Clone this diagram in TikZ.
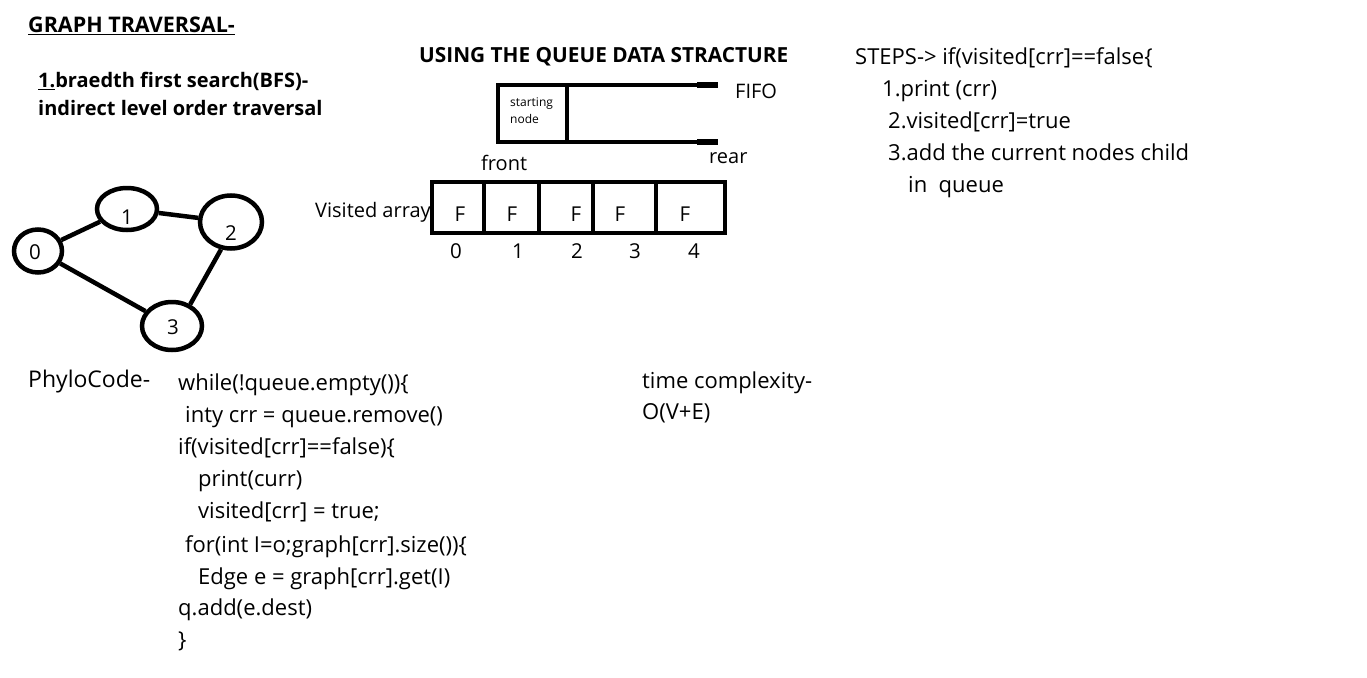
\documentclass[tikz,border=0pt]{standalone}
\usepackage{fontspec}
\setmainfont{Open Sans}
\usetikzlibrary{shapes.geometric}
\tikzset{
  txt/.style={anchor=base west, inner sep=0pt, font=\fontsize{22}{26}\selectfont},
  mid/.style={anchor=base west, inner sep=0pt, font=\fontsize{20}{24}\selectfont},
  num/.style={anchor=base, inner sep=0pt, font=\fontsize{20.5}{24}\selectfont},
  head/.style={anchor=base west, inner sep=0pt, font=\bfseries\fontsize{20}{24}\selectfont},
  vert/.style={ellipse, draw=black, line width=4.5pt, inner sep=0pt},
  edge/.style={draw=black, line width=4.5pt},
  cell/.style={draw=black, line width=4.5pt, minimum height=51pt, inner sep=0pt},
}
\begin{document}
\begin{tikzpicture}[x=1pt,y=-1pt]
\useasboundingbox[fill=white] (0,0) rectangle (1367,677);

% headings
\node[head, font=\bfseries\fontsize{21.5}{24}\selectfont] (title) at (28,33) {\underline{GRAPH TRAVERSAL-}};
\node[head] (bfs1) at (38,88) {\underline{1.}braedth first search(BFS)-};
\node[head] (bfs2) at (38,115) {indirect level order traversal};
\node[head, font=\bfseries\fontsize{20.8}{22}\selectfont] (qhead) at (419,63) {USING THE QUEUE DATA STRACTURE};

% graph
\node[vert, minimum width=48pt, minimum height=43pt] (n0) at (38,251) {};
\node[vert, minimum width=60pt, minimum height=42pt] (n1) at (127,209) {};
\node[vert, minimum width=62pt, minimum height=53pt] (n2) at (231,222) {};
\node[vert, minimum width=60pt, minimum height=48pt] (n3) at (172,326) {};
\node[num] (l0) at (35,259) {0};
\node[num] (l1) at (127,224) {1};
\node[num] (l2) at (231,240) {2};
\node[num] (l3) at (173,334) {3};
\draw[edge] (n0) -- (n1);
\draw[edge] (n1) -- (n2);
\draw[edge] (n2.250) -- (n3.50);
\draw[edge] (n0) -- (n3);

% queue
\coordinate (qtr) at (718,85);
\coordinate (qtl) at (498,85);
\coordinate (qbl) at (498,142);
\coordinate (qbr) at (718,142);
\coordinate (qdt) at (567,85);
\coordinate (qdb) at (567,142);
\draw[line width=4.5pt, line join=miter] (qtr) -- (qtl) -- (qbl) -- (qbr);
\draw[line width=4.5pt] (qdt) -- (qdb);
\draw[line width=5.5pt] (697,85) -- (qtr);
\draw[line width=5.5pt] (697,142) -- (qbr);
\node[anchor=base west, inner sep=0pt, font=\fontsize{12}{14}\selectfont] (sn1) at (510,106) {starting};
\node[anchor=base west, inner sep=0pt, font=\fontsize{12}{14}\selectfont] (sn2) at (510,123) {node};
\node[mid] (fifo) at (735,98) {FIFO};
\node[mid] (rear) at (709,163) {rear};
\node[mid] (front) at (481,170) {front};

% visited array
\node[mid] (va) at (315,217) {Visited array};
\node[cell, minimum width=52pt] (c0) at (458,207.5) {};
\node[cell, minimum width=55pt] (c1) at (511.5,207.5) {};
\node[cell, minimum width=54pt] (c2) at (566,207.5) {};
\node[cell, minimum width=63pt] (c3) at (624.5,207.5) {};
\node[cell, minimum width=69pt] (c4) at (690.5,207.5) {};
\node[num] (f0) at (460,221) {F};
\node[num] (f1) at (512,221) {F};
\node[num] (f2) at (576,221) {F};
\node[num] (f3) at (620,221) {F};
\node[num] (f4) at (685,221) {F};
\node[num] (i0) at (456,258) {0};
\node[num] (i1) at (518,258) {1};
\node[num] (i2) at (577,258) {2};
\node[num] (i3) at (635,258) {3};
\node[num] (i4) at (694,258) {4};

% steps
\node[txt] (s0) at (855,64) {STEPS-> if(visited[crr]==false\{};
\node[txt] (s1) at (882,96) {1.print (crr)};
\node[txt] (s2) at (888,128) {2.visited[crr]=true};
\node[txt] (s3) at (888,160) {3.add the current nodes child};
\node[txt] (s4) at (908,192) {in\ \ queue};

% pseudo code
\node[txt, font=\fontsize{23}{26}\selectfont] (pc) at (28,387) {PhyloCode-};
\node[txt] (p1) at (178,390) {while(!queue.empty())\{};
\node[txt] (p2) at (185,422) {inty crr = queue.remove()};
\node[txt] (p3) at (178,454) {if(visited[crr]==false)\{};
\node[txt] (p4) at (198,486) {print(curr)};
\node[txt] (p5) at (198,518) {visited[crr] = true;};
\node[txt] (p6) at (185,552) {for(int I=o;graph[crr].size())\{};
\node[txt] (p7) at (198,584) {Edge e = graph[crr].get(I)};
\node[txt] (p8) at (178,615) {q.add(e.dest)};
\node[txt] (p9) at (178,647) {\}};

% complexity
\node[txt] (tc1) at (642,388) {time complexity-};
\node[txt] (tc2) at (642,419) {O(V+E)};
\end{tikzpicture}
\end{document}
